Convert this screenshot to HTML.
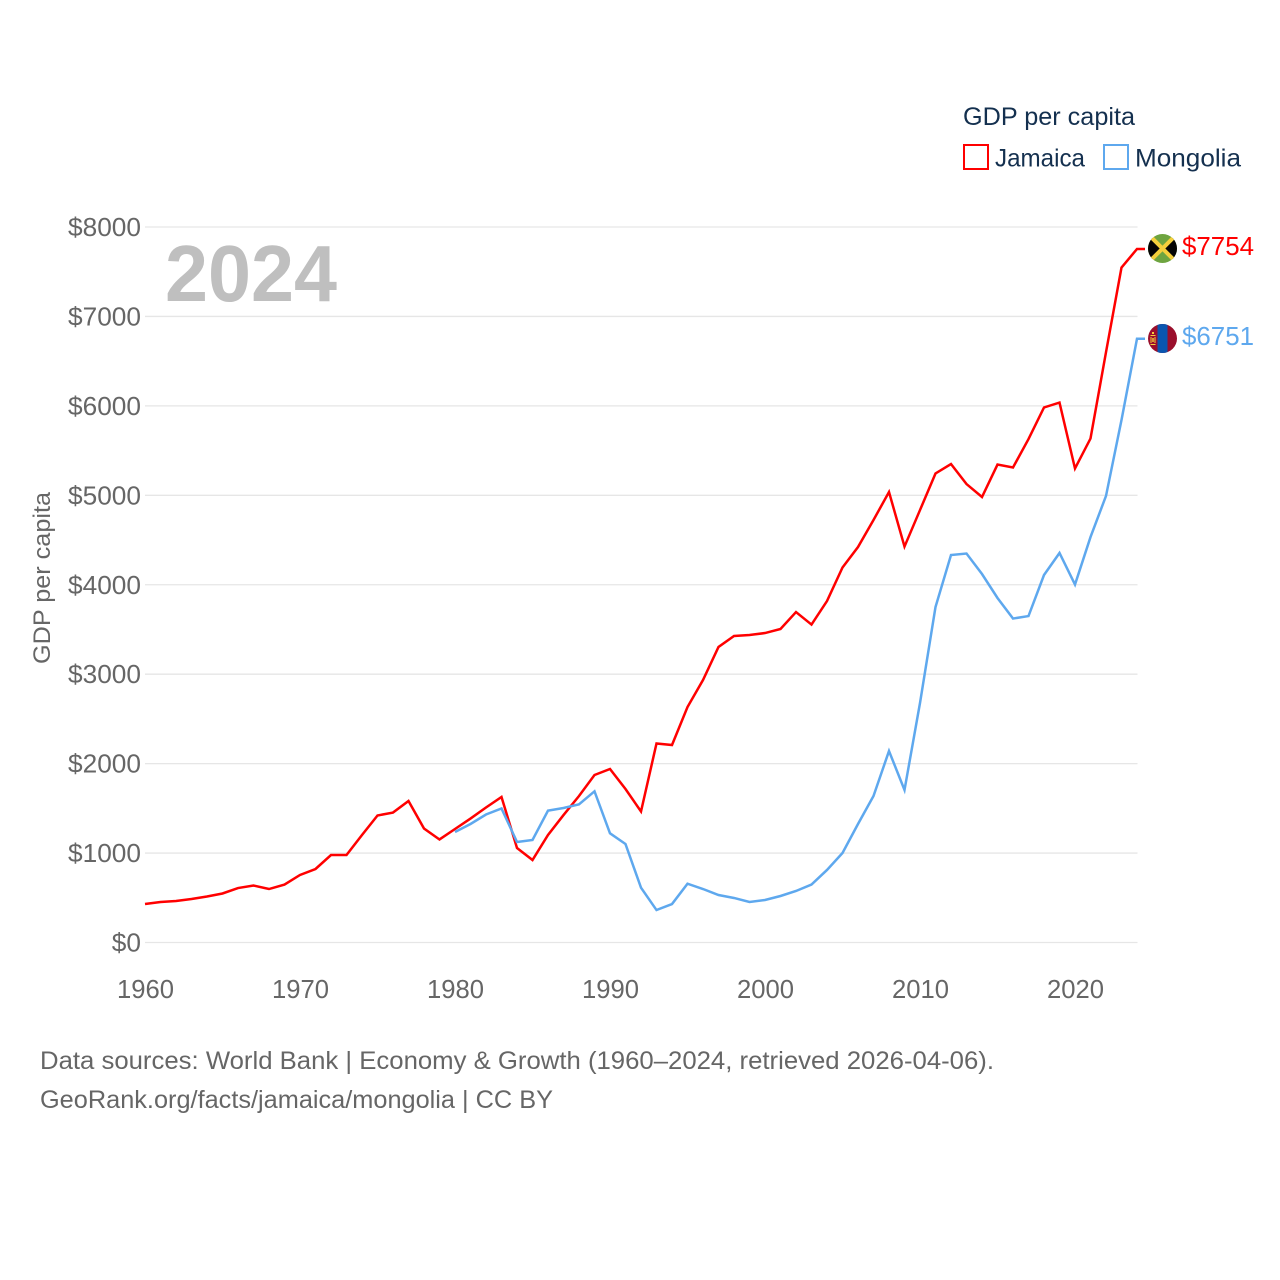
<!DOCTYPE html>
<html lang="en">
<head>
<meta charset="utf-8">
<title>GDP per capita: Jamaica and Mongolia</title>
<style>
html,body{margin:0;padding:0;background:#fff;width:1280px;height:1280px;overflow:hidden}
svg{display:block;font-family:"Liberation Sans",sans-serif}
</style>
</head>
<body>
<svg id="chart" xmlns="http://www.w3.org/2000/svg" width="1280" height="1280" viewBox="0 0 1280 1280">
<defs>
<clipPath id="flag-clip-j"><circle cx="1162.5" cy="248.5" r="14.5"/></clipPath>
<clipPath id="flag-clip-m"><circle cx="1162.5" cy="338.5" r="14.5"/></clipPath>
</defs>
<g id="grid"></g>
<g id="yticks"></g>
<g id="xticks"></g>
<text x="165" y="301" font-size="80" font-weight="700" fill="#bfbfbf" textLength="172" lengthAdjust="spacingAndGlyphs">2024</text>
<text transform="translate(50,664) rotate(-90)" font-size="24.5" fill="#666" textLength="172" lengthAdjust="spacingAndGlyphs">GDP per capita</text>
<g id="series"></g>

<g clip-path="url(#flag-clip-j)">
<rect x="1148" y="234" width="29" height="29" fill="#6ea440"/>
<polygon points="1148,234 1162.5,248.5 1148,263" fill="#050505"/>
<polygon points="1177,234 1162.5,248.5 1177,263" fill="#050505"/>
<path d="M1148,234L1177,263M1177,234L1148,263" stroke="#f4cf3c" stroke-width="4" fill="none"/>
</g>
<g clip-path="url(#flag-clip-m)">
<rect x="1148" y="324" width="29" height="29" fill="#9a0f2c"/>
<rect x="1157.5" y="324" width="10" height="29" fill="#0a56b0"/>
<rect x="1152" y="332" width="2" height="2" fill="#f4cf3c"/>
<rect x="1150.5" y="335" width="5" height="1" fill="#f4cf3c"/>
<rect x="1150.5" y="337" width="1" height="6" fill="#f4cf3c"/>
<rect x="1154.5" y="337" width="1" height="6" fill="#f4cf3c"/>
<rect x="1152.3" y="338" width="1.4" height="4" fill="#f4cf3c"/>
<rect x="1150.5" y="344" width="5" height="1" fill="#f4cf3c"/>
</g>
<text x="1182" y="255" font-size="25.5" fill="#ff0000" textLength="72" lengthAdjust="spacingAndGlyphs">$7754</text>
<text x="1182" y="345" font-size="25.5" fill="#5ea8ee" textLength="72" lengthAdjust="spacingAndGlyphs">$6751</text>

<g>
<text x="963" y="125" font-size="25" fill="#14304f" textLength="172" lengthAdjust="spacingAndGlyphs">GDP per capita</text>
<g>
<rect x="964" y="145" width="24" height="24" fill="none" stroke="#ff0000" stroke-width="2"/>
<text x="995" y="166.5" font-size="25" fill="#14304f" textLength="90" lengthAdjust="spacingAndGlyphs">Jamaica</text>
</g>
<g>
<rect x="1104" y="145" width="24" height="24" fill="none" stroke="#5ea8ee" stroke-width="2"/>
<text x="1135" y="166.5" font-size="25" fill="#14304f" textLength="106" lengthAdjust="spacingAndGlyphs">Mongolia</text>
</g>
</g>

<text x="40" y="1069" font-size="25" fill="#666" textLength="954" lengthAdjust="spacingAndGlyphs">Data sources: World Bank | Economy &amp; Growth (1960–2024, retrieved 2026-04-06).</text>
<text x="40" y="1108" font-size="25" fill="#666" textLength="513" lengthAdjust="spacingAndGlyphs">GeoRank.org/facts/jamaica/mongolia | CC BY</text>
</svg>
<script>
const jamaicaStartYear = 1960;
const jamaicaValues = [430,453,464,486,514,548,609,637,598,648,755,822,978,978,1202,1420,1453,1582,1275,1152,1269,1386,1509,1627,1057,922,1202,1425,1638,1873,1940,1716,1465,2225,2208,2633,2935,3304,3427,3438,3460,3505,3695,3555,3818,4193,4422,4724,5037,4427,4835,5244,5350,5126,4981,5344,5311,5629,5982,6037,5300,5635,6600,7547,7754];
const mongoliaStartYear = 1980;
const mongoliaValues = [1235,1325,1431,1498,1124,1146,1474,1504,1545,1690,1221,1101,613,363,430,657,598,531,498,453,475,520,576,648,811,1001,1325,1638,2141,1705,2678,3751,4332,4349,4120,3852,3622,3650,4109,4355,4002,4533,4993,5842,6751];
const yTickValues = [0,1000,2000,3000,4000,5000,6000,7000,8000];
const xTickValues = [1960,1970,1980,1990,2000,2010,2020];

const NS = 'http://www.w3.org/2000/svg';
function xScale(year){ return 145 + (year - 1960) * (992 / 64); }
function yScale(v){ return 942.5 - v * (715.5 / 8000); }
function make(tag, attrs, parent, text){
  const el = document.createElementNS(NS, tag);
  for (const k in attrs) el.setAttribute(k, attrs[k]);
  if (text !== undefined) el.textContent = text;
  parent.appendChild(el);
  return el;
}
const gridG = document.getElementById('grid');
const yG = document.getElementById('yticks');
const xG = document.getElementById('xticks');
const seriesG = document.getElementById('series');

yTickValues.forEach(function(v){
  const line = make('line', {x1:145, x2:1137.5, y1:yScale(v), y2:yScale(v), stroke:'#e6e6e6', 'stroke-width':1.3}, gridG);
  
  
  const label = '$' + v;
  const t = make('text', {x:141, y:yScale(v) + 9, 'text-anchor':'end', 'font-size':25.5, fill:'#666', textLength: label.length * 14.6, lengthAdjust:'spacingAndGlyphs'}, yG, label);
  
  
});
xTickValues.forEach(function(y){
  const t = make('text', {x:xScale(y) + 0.5, y:998, 'text-anchor':'middle', 'font-size':25.5, fill:'#666', textLength:57, lengthAdjust:'spacingAndGlyphs'}, xG, String(y));
  
  
});
function linePoints(values, startYear){
  const pts = values.map(function(v, i){ return xScale(startYear + i).toFixed(2) + ',' + yScale(v).toFixed(2); });
  const last = values[values.length - 1];
  pts.push((xScale(startYear + values.length - 1) + 8).toFixed(2) + ',' + yScale(last).toFixed(2));
  return pts.join(' ');
}
const jamaicaLine = make('polyline', {points:linePoints(jamaicaValues, jamaicaStartYear), fill:'none', stroke:'#ff0000', 'stroke-width':2.5, 'stroke-linejoin':'miter'}, seriesG);


const mongoliaLine = make('polyline', {points:linePoints(mongoliaValues, mongoliaStartYear), fill:'none', stroke:'#5ea8ee', 'stroke-width':2.5, 'stroke-linejoin':'miter'}, seriesG);


</script>
</body>
</html>
